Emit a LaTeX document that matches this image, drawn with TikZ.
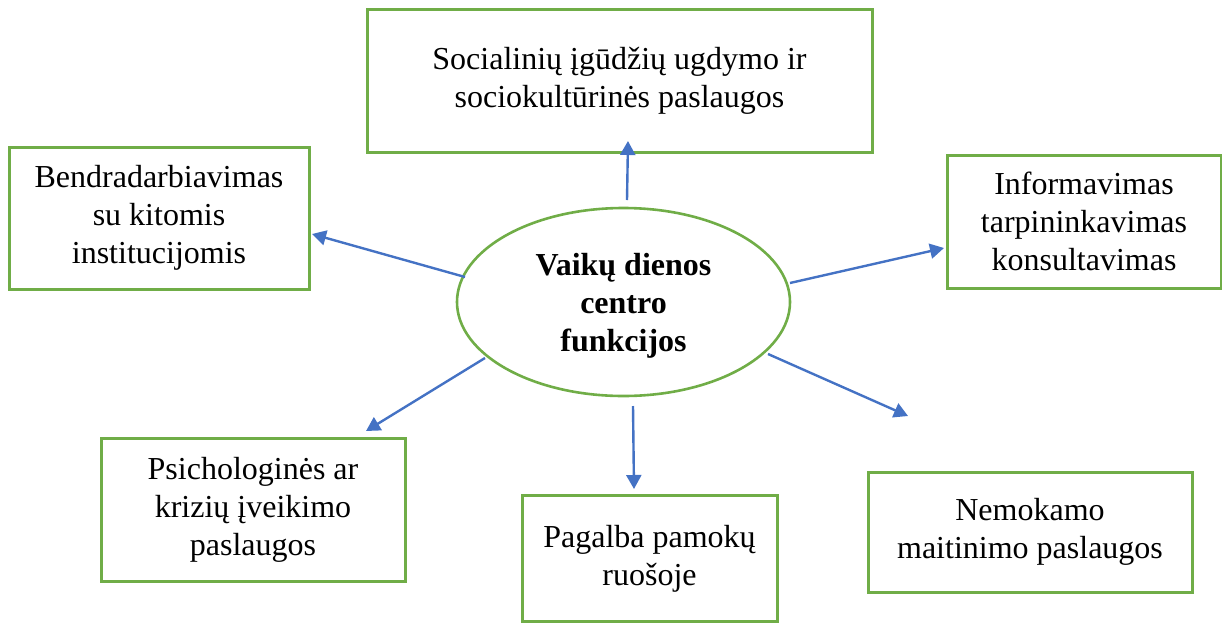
\documentclass[tikz,border=0pt]{standalone}
\usepackage{fontspec}
\setmainfont{Liberation Serif}
\usetikzlibrary{arrows.meta,shapes.geometric}
\definecolor{boxgreen}{HTML}{70AD47}
\definecolor{arrblue}{HTML}{4472C4}
\begin{document}
\begin{tikzpicture}[x=0.5pt,y=-0.5pt,
  fbox/.style={draw=boxgreen, line width=1.5pt, rectangle, align=center, inner sep=0pt,
    font=\fontsize{16}{19}\selectfont},
  hub/.style={draw=boxgreen, line width=1.3pt, ellipse, inner sep=0pt},
  hubtxt/.style={align=center, font=\fontsize{16}{19}\selectfont\bfseries},
  conn/.style={draw=arrblue, line width=1.2pt, -{Triangle[length=7pt,width=7.5pt]}}
]
\useasboundingbox (0,0) rectangle (1222,622);

\node[fbox, minimum width=252.5pt, minimum height=71.5pt] (top) at (619.5,80.5)
  {Socialinių įgūdžių ugdymo ir\\sociokultūrinės paslaugos};
\node[fbox, minimum width=150pt, minimum height=71pt] (left) at (159,218)
  {Bendradarbiavimas\\su kitomis\\institucijomis};
\node[fbox, minimum width=137pt, minimum height=66.5pt] (right) at (1084,221.5)
  {Informavimas\\tarpininkavimas\\konsultavimas};
\node[fbox, minimum width=152pt, minimum height=71.5pt] (bl) at (253,509.5)
  {Psichologinės ar\\krizių įveikimo\\paslaugos};
\node[fbox, minimum width=127.5pt, minimum height=63pt] (bc) at (649.5,558.5)
  {Pagalba pamokų\\ruošoje};
\node[fbox, minimum width=162pt, minimum height=60pt] (br) at (1030,532)
  {Nemokamo\\maitinimo paslaugos};
\node[hub, minimum width=166.5pt, minimum height=94pt] (hub) at (623.5,302) {};
\node[hubtxt] (hubtext) at (623.5,306)
  {Vaikų dienos\\centro\\funkcijos};

\coordinate (t1) at (627,200);  \coordinate (h1) at (628,141);
\coordinate (t2) at (465,277);  \coordinate (h2) at (312,234);
\coordinate (t3) at (790,283);  \coordinate (h3) at (944,248);
\coordinate (t4) at (485,358);  \coordinate (h4) at (366,431);
\coordinate (t5) at (633,406);  \coordinate (h5) at (634,489);
\coordinate (t6) at (768,354);  \coordinate (h6) at (908,416);

\draw[conn] (t1) -- (h1);
\draw[conn] (t2) -- (h2);
\draw[conn] (t3) -- (h3);
\draw[conn] (t4) -- (h4);
\draw[conn] (t5) -- (h5);
\draw[conn] (t6) -- (h6);
\end{tikzpicture}
\end{document}
